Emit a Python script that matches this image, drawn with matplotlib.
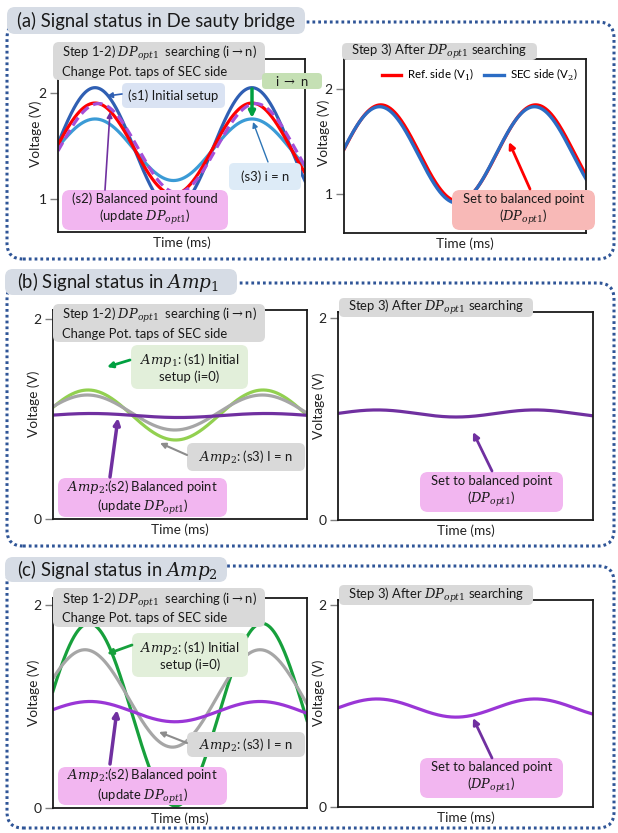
import numpy as np
import matplotlib
matplotlib.use("Agg")
import matplotlib.pyplot as plt
import matplotlib.transforms as mtransforms
from matplotlib.patches import FancyBboxPatch, FancyArrowPatch

plt.rcParams['font.family'] = ['Lato', 'DejaVu Sans']
plt.rcParams['mathtext.fontset'] = 'dejavuserif'

W, H = 618, 833

# ---------------- data ----------------
# normalised time across each plot (the chart prints no time values)
time_norm = np.linspace(0.0, 1.0, 600)

# (a) De Sauty bridge, step 1-2 : offset (V), amplitude (V), first peak, period
a_left_names = ["s1", "s3", "ref", "s2"]
a_left_offset = [1.475, 1.465, 1.475, 1.480]
a_left_amp = [0.575, 0.290, 0.430, 0.420]
a_left_peak = [0.150, 0.150, 0.150, 0.165]
a_left_period = [0.635, 0.635, 0.635, 0.635]

# (a) step 3 : Ref. side (V1), SEC side (V2)
a_right_names = ["Ref. side (V$_1$)", "SEC side (V$_2$)"]
a_right_offset = [1.392, 1.375]
a_right_amp = [0.460, 0.460]
a_right_peak = [0.152, 0.147]
a_right_period = [0.640, 0.640]

# (b) Amp1 : s1 (green), s3 (gray), s2 (purple)
b_left_offset = [1.040, 1.065, 1.035]
b_left_amp = [0.250, 0.175, 0.020]
b_left_peak = [0.138, 0.135, 0.150]
b_left_period = [0.689, 0.689, 0.689]
b_right_offset = [1.055]
b_right_amp = [0.035]
b_right_peak = [0.153]
b_right_period = [0.620]

# (c) Amp2 : s1 (green), s3 (gray), s2 (purple)
c_left_offset = [0.920, 1.080, 0.950]
c_left_amp = [0.900, 0.480, 0.100]
c_left_peak = [0.142, 0.126, 0.146]
c_left_period = [0.681, 0.689, 0.669]
c_right_offset = [0.980]
c_right_amp = [0.090]
c_right_peak = [0.153]
c_right_period = [0.620]

yticks_a = [1, 2]
yticks_bc = [0, 2]

# ---------------- figure ----------------
fig = plt.figure(figsize=(W / 100, H / 100), dpi=100)
fig.patch.set_facecolor('white')
T = mtransforms.Affine2D().scale(1.0 / W, 1.0 / H) + fig.transFigure
renderer = fig.canvas.get_renderer()


def wave(off, amp, peak, period):
    return off + amp * np.cos(2 * np.pi * (time_norm - peak) / period)


def measured_size(text, target, fs=10):
    t = fig.text(0, 0, text, fontsize=fs)
    w = t.get_window_extent(renderer).width
    t.remove()
    return fs * target / w


# common text sizes, matched to the widths of plain-text lines in the picture
FS_BOX = measured_size("Change Pot. taps of SEC side", 157) * 1.05
FS_TITLE = measured_size("(a) Signal status in De sauty bridge", 278)
FS_LABEL = measured_size("Voltage (V)", 66)
FS_LEG = measured_size("Ref. side (V$_1$)", 67)


def make_axes(rect, ylim, yticks, lab_x, lab_y):
    x0, y0, x1, y1 = rect
    ax = fig.add_axes([x0 / W, 1 - y1 / H, (x1 - x0) / W, (y1 - y0) / H])
    ax.set_xlim(0, 1)
    ax.set_ylim(*ylim)
    ax.set_xticks([])
    ax.set_yticks(yticks)
    ax.set_yticklabels([str(v) for v in yticks])
    for s in ax.spines.values():
        s.set_linewidth(1.3)
        s.set_color('#1a1a1a')
    ax.tick_params(axis='y', length=6, width=1, color='#808080',
                   labelsize=10, pad=2, labelcolor='#222222')
    ax.set_ylabel('Voltage (V)', fontsize=FS_LABEL, color='#222222')
    ax.yaxis.set_label_coords(lab_x, lab_y)
    ax.set_xlabel('Time (ms)', fontsize=FS_LABEL, labelpad=3, color='#222222')
    return ax


def box(x0, y0, x1, y1, fc, text, fs=None, ha='center', tx=None,
        malign='center', r=6, z=6, ls=1.2):
    p = FancyBboxPatch((x0, H - y1), x1 - x0, y1 - y0,
                       boxstyle=f"round,pad=0,rounding_size={r}",
                       transform=T, fc=fc, ec='none', zorder=z)
    fig.add_artist(p)
    if tx is None:
        tx = (x0 + x1) / 2
    t = fig.text(tx, H - (y0 + y1) / 2, text, transform=T, ha=ha,
                 va='center', fontsize=fs or FS_BOX, multialignment=malign,
                 color='#1a1a1a', zorder=z + 0.5, linespacing=ls)
    return t


def arrow(xa, ya, xb, yb, color, lw=1.5, ms=10):
    a = FancyArrowPatch((xa, H - ya), (xb, H - yb), arrowstyle='-|>',
                        mutation_scale=ms, color=color, lw=lw,
                        transform=T, zorder=7, shrinkA=0, shrinkB=0)
    fig.add_artist(a)


def frame(x0, y0, x1, y1):
    p = FancyBboxPatch((x0, H - y1), x1 - x0, y1 - y0,
                       boxstyle="round,pad=0,rounding_size=16",
                       transform=T, fc='none', ec='#2f5597', lw=2.2,
                       ls=(0, (0.9, 1.0)), zorder=2)
    fig.add_artist(p)


step12 = "Step 1-2) $DP_{opt1}$  searching (i$\\rightarrow$n)\nChange Pot. taps of SEC side"
step3 = "Step 3) After $DP_{opt1}$ searching"
title_fc = '#d6dce5'
gray_fc = '#d9d9d9'
pink_fc = '#f2b6f0'
green_fc = '#e2efda'

# ================= (a) =================
frame(7, 22, 614, 259)
box(7, 7, 305, 34, title_fc, "(a) Signal status in De sauty bridge", FS_TITLE,
    ha='left', tx=17, r=8, malign='left')

ax = make_axes((58, 59, 305, 232), (0.69, 2.32), yticks_a, -0.065, 0.57)
a_cols = ['#2f5fb3', '#3b9bd6', '#ff0000', '#a54fd8']
a_styles = ['-', '-', '-', (0, (3.0, 1.6))]
order = [1, 0, 2, 3]
for i in order:
    ax.plot(time_norm, wave(a_left_offset[i], a_left_amp[i], a_left_peak[i],
                            a_left_period[i]),
            color=a_cols[i], lw=2.3, ls=a_styles[i])

box(53, 42, 265, 80, gray_fc, step12, malign='left', ls=1.25)
box(262, 73, 322, 89, '#c5e0b4', "i $\\rightarrow$ n", r=4)
box(122, 83, 225, 108, '#dae3f3', "(s1) Initial setup", r=5)
box(62, 190, 228, 230, pink_fc, "(s2) Balanced point found\n(update $DP_{opt1}$)", r=8)
box(229, 163, 301, 190, '#ddebf7', "(s3) i = n", r=5)
arrow(122, 94, 107, 96, '#2f5fb3', lw=1.2, ms=8)
arrow(105, 190, 110, 112, '#7030a0', lw=1.2, ms=8)
arrow(268, 162, 253, 122, '#2e75b6', lw=1.0, ms=8)
arrow(252, 89, 252, 118, '#00a040', lw=2.5, ms=9)

ax = make_axes((344, 59, 586, 233), (0.63, 2.29), yticks_a, -0.058, 0.575)
r_cols = ['#ff0000', '#2b6cc4']
for i in range(2):
    ax.plot(time_norm, wave(a_right_offset[i], a_right_amp[i], a_right_peak[i],
                            a_right_period[i]),
            color=r_cols[i], lw=2.4, label=a_right_names[i])
leg = ax.legend(loc='upper center', bbox_to_anchor=(0.56, 1.0), ncol=2,
                frameon=False, fontsize=FS_LEG, handlelength=1.7,
                columnspacing=0.9, handletextpad=0.5, borderaxespad=0.3)
box(342, 43, 537, 60, gray_fc, step3, r=5)
box(452, 190, 595, 230, '#f8b9b7', "Set to balanced point\n($DP_{opt1}$)", r=8)
arrow(530, 189, 509, 142, '#ff0000', lw=2.0, ms=9)

# ================= (b) =================
frame(7, 283, 614, 546)
box(5, 269, 237, 295, title_fc, "(b) Signal status in $Amp_1$", FS_TITLE,
    ha='left', tx=17, r=8, malign='left')

ax = make_axes((53, 310, 307, 519), (0, 2.09), yticks_bc, -0.051, 0.55)
b_cols = ['#92d050', '#a6a6a6', '#7030a0']
for i in range(3):
    ax.plot(time_norm, wave(b_left_offset[i], b_left_amp[i], b_left_peak[i],
                            b_left_period[i]), color=b_cols[i], lw=2.3)
box(53, 304, 265, 342, gray_fc, step12, malign='left', ls=1.25)
box(131, 345, 248, 389, green_fc, "$Amp_1$: (s1) Initial\nsetup (i=0)", r=7)
box(187, 443, 305, 471, gray_fc, "$Amp_2$: (s3) I = n", r=6)
box(58, 478, 227, 517, pink_fc, "$Amp_2$:(s2) Balanced point\n(update $DP_{opt1}$)", r=8)
arrow(130, 360, 107, 367, '#00a040', lw=2.0, ms=8)
arrow(187, 455, 160, 443, '#8c8c8c', lw=1.5, ms=8)
arrow(110, 477, 118, 418, '#7030a0', lw=2.5, ms=9)

ax = make_axes((338, 312, 593, 520), (0, 2.06), yticks_bc, -0.051, 0.55)
ax.plot(time_norm, wave(b_right_offset[0], b_right_amp[0], b_right_peak[0],
                        b_right_period[0]), color='#7030a0', lw=2.3)
box(339, 298, 533, 317, gray_fc, step3, r=5)
box(420, 472, 563, 512, pink_fc, "Set to balanced point\n($DP_{opt1}$)", r=8)
arrow(492, 471, 473, 432, '#7030a0', lw=2.0, ms=9)

# ================= (c) =================
frame(7, 566, 614, 828)
box(5, 557, 227, 582, title_fc, "(c) Signal status in $Amp_2$", FS_TITLE,
    ha='left', tx=17, r=8, malign='left')

ax = make_axes((53, 598, 307, 808), (0, 2.07), yticks_bc, -0.051, 0.55)
c_cols = ['#17a03c', '#a6a6a6', '#9a36d6']
for i in range(3):
    ax.plot(time_norm, wave(c_left_offset[i], c_left_amp[i], c_left_peak[i],
                            c_left_period[i]), color=c_cols[i], lw=2.3)
box(53, 588, 265, 627, gray_fc, step12, malign='left', ls=1.25)
box(132, 633, 248, 677, green_fc, "$Amp_2$: (s1) Initial\nsetup (i=0)", r=7)
box(187, 732, 305, 757, gray_fc, "$Amp_2$: (s3) I = n", r=6)
box(58, 767, 227, 805, pink_fc, "$Amp_2$:(s2) Balanced point\n(update $DP_{opt1}$)", r=8)
arrow(132, 645, 107, 654, '#17a03c', lw=2.0, ms=8)
arrow(187, 743, 159, 732, '#8c8c8c', lw=1.5, ms=8)
arrow(110, 764, 117, 710, '#7030a0', lw=2.5, ms=9)

ax = make_axes((338, 600, 593, 807), (0, 2.05), yticks_bc, -0.051, 0.55)
ax.plot(time_norm, wave(c_right_offset[0], c_right_amp[0], c_right_peak[0],
                        c_right_period[0]), color='#9a36d6', lw=2.3)
box(339, 585, 533, 605, gray_fc, step3, r=5)
box(420, 758, 563, 798, pink_fc, "Set to balanced point\n($DP_{opt1}$)", r=8)
arrow(492, 758, 473, 718, '#7030a0', lw=2.0, ms=9)

fig.savefig("out.png", dpi=100)
